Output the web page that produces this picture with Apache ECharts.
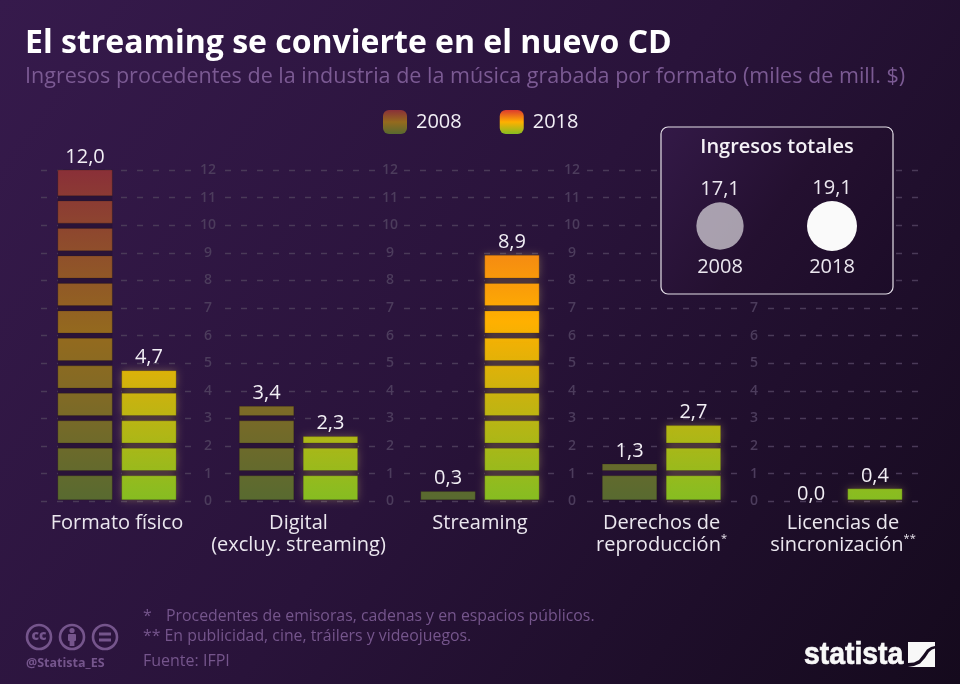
<!DOCTYPE html>
<html><head><meta charset="utf-8">
<style>html,body{margin:0;padding:0;background:#220f2e}#c{width:960px;height:684px}</style>
<script src="https://cdn.jsdelivr.net/npm/echarts@6/dist/echarts.min.js"></script>
</head><body><div id="c"></div>
<script>
const categories = ['Formato físico','Digital\n(excluy. streaming)','Streaming','Derechos de\n{n|reproducción}{s|*}','Licencias de\n{n|sincronización}{s|**}'];
const values2008 = [12.0,3.4,0.3,1.3,0.0];
const values2018 = [4.7,2.3,8.9,2.7,0.4];
const totalYears = ['2008','2018'];
const totalValues = [17.1,19.1];
const yTicksMax = 12;

const FF = '"Open Sans"';
const fmt = v => v.toFixed(1).replace('.',',');
const stops2008 = [[0,'#8a3038'],[0.25,'#8f4f2b'],[0.5,'#946a1e'],[0.7,'#7f6a26'],[1,'#586a30']];
const stops2018 = [[0,'#dd3a2e'],[0.25,'#f58a12'],[0.46,'#ffb000'],[0.7,'#c6b310'],[1,'#86bd22']];
const cs = a => a.map(s=>({offset:s[0],color:s[1]}));

// five panels of dashed gridlines, four of them carrying tick labels on the right
const panels = [[41,17],[225,15],[404,18],[587,17],[768,null]];
const grids=[],xAxes=[],yAxes=[];
panels.forEach(p=>{
  const i=grids.length;
  grids.push({left:p[0],width:150,top:170,height:331.3});
  xAxes.push({type:'value',gridIndex:i,show:false,min:0,max:1});
  yAxes.push({type:'value',gridIndex:i,position:'right',min:0,max:yTicksMax,interval:1,
    axisLine:{show:false},axisTick:{show:false},
    axisLabel:{show:p[1]!==null,margin:p[1]||0,align:'center',color:'#4c3c5c',fontFamily:FF,fontWeight:600,fontSize:14},
    splitLine:{show:true,lineStyle:{color:'#4a3a58',width:1.4,type:[6,10]}}});
});
// bars grid
const barG=grids.length;
grids.push({left:26.25,width:907.5,top:170,height:329.8});
xAxes.push({type:'category',gridIndex:barG,data:categories,axisLine:{show:false},axisTick:{show:false},
  axisLabel:{interval:0,margin:12,color:'#ebe7ef',fontFamily:FF,fontSize:20,lineHeight:22,
    rich:{n:{fontFamily:FF,fontSize:20,color:'#ebe7ef',lineHeight:22},s:{fontFamily:FF,fontSize:11,color:'#ebe7ef',lineHeight:22,verticalAlign:'top',padding:[0,0,6,0]}}}});
yAxes.push({type:'value',gridIndex:barG,show:false,min:0,max:yTicksMax,splitLine:{show:false}});
// totals grid
const totG=grids.length;
grids.push({left:664,width:224,top:206,height:40});
xAxes.push({type:'category',gridIndex:totG,data:totalYears,z:7,axisLine:{show:false},axisTick:{show:false},
  axisLabel:{margin:11,color:'#ebe7ef',fontFamily:FF,fontSize:20}});
yAxes.push({type:'value',gridIndex:totG,show:false,min:0,max:2,splitLine:{show:false}});

function barSeries(name,values,stops,side,glow,backing){
  return {name,type:'custom',xAxisIndex:barG,yAxisIndex:barG,z:3,
    data:values.map((v,i)=>[i,v]),
    encode:{x:0,y:1},
    renderItem(params,api){
      const i=api.value(0),v=api.value(1);
      const c=api.coord([i,0]);const band=api.size([1,0])[0];
      const w=band*0.3;const x=c[0]+side*(band*0.026)+(side<0?-w:0);
      const y0=api.coord([i,0])[1],y12=api.coord([i,yTicksMax])[1];
      const fill={type:'linear',global:true,x:0,y:y12,x2:0,y2:y0,colorStops:cs(stops)};
      const ch=[];
      const top=api.coord([i,v])[1];
      if(v>0) ch.push({type:'rect',shape:{x:x,y:top,width:w,height:y0-top},style:{fill:backing}});
      for(let n=0;n<Math.ceil(v);n++){
        const lo=n===0?0:n-0.03+0.096, hi=(n+1>=v)?v:n+1-0.03-0.096;
        if(hi<=lo) continue;
        const a=api.coord([i,hi])[1],b=api.coord([i,lo])[1];
        ch.push({type:'rect',shape:{x:x,y:a,width:w,height:b-a},
          style:{fill:fill,stroke:'rgba(40,30,10,0.22)',lineWidth:1,shadowBlur:glow?8:0,shadowColor:glow?'rgba(255,225,140,0.3)':'transparent'}});
      }
      ch.push({type:'text',style:{text:fmt(v),x:x+w/2,y:top-(v===0?6:13),align:'center',verticalAlign:'middle',fill:'#f2eff5',font:'20px '+FF}});
      return {type:'group',children:ch};
    }};
}

const option={
  animation:false,
  backgroundColor:{type:'linear',x:0,y:0,x2:1,y2:1,colorStops:[{offset:0,color:'#361a4c'},{offset:0.5,color:'#29133a'},{offset:1,color:'#150a1d'}]},
  title:[
    {text:'El streaming se convierte en el nuevo CD',left:25,top:28,padding:0,textStyle:{color:'#fff',fontFamily:FF,fontWeight:700,fontSize:32}},
    {text:'Ingresos procedentes de la industria de la música grabada por formato (miles de mill. $)',left:25,top:66,padding:0,textStyle:{color:'#7b5a93',fontFamily:FF,fontWeight:400,fontSize:21.55}}
  ],
  legend:{left:383,top:110,padding:0,itemWidth:24,itemHeight:24,itemGap:38,itemStyle:{borderWidth:0},
    textStyle:{color:'#f2eff5',fontFamily:FF,fontSize:20,padding:[2,0,0,4]},
    data:[
      {name:'2008',icon:'roundRect',itemStyle:{color:{type:'linear',x:0,y:0,x2:0,y2:1,colorStops:[{offset:0,color:'#8a3038'},{offset:.5,color:'#946a1e'},{offset:1,color:'#586a30'}]}}},
      {name:'2018',icon:'roundRect',itemStyle:{color:{type:'linear',x:0,y:0,x2:0,y2:1,colorStops:[{offset:0,color:'#dd3a2e'},{offset:.5,color:'#ffb000'},{offset:1,color:'#86bd22'}]}}}
    ]},
  grid:grids,xAxis:xAxes,yAxis:yAxes,
  series:[
    barSeries('2008',values2008,stops2008,-1,false,'#2a1338'),
    barSeries('2018',values2018,stops2018,1,true,'#2a1530'),
    {type:'scatter',xAxisIndex:totG,yAxisIndex:totG,z:6,
      data:totalValues.map((v,i)=>({value:[i,1,v],itemStyle:{color:i?'#fafafa':'rgba(255,255,255,0.6)',opacity:1}})),
      symbolSize:d=>Math.sqrt(d[2])*11.44,
      label:{show:true,position:'top',distance:3,formatter:p=>fmt(p.value[2]),color:'#ebe7ef',fontFamily:FF,fontSize:20}}
  ],
  graphic:[
    {type:'rect',z:1,shape:{x:661,y:127,width:232,height:167,r:7},
      style:{fill:{type:'linear',x:0,y:0,x2:1,y2:1,colorStops:[{offset:0,color:'#331947'},{offset:0.5,color:'#241030'},{offset:1,color:'#1c0c28'}]},stroke:'#e4dfe8',lineWidth:1.2}},
    {type:'text',z:5,style:{text:'Ingresos totales',x:777,y:147,align:'center',verticalAlign:'middle',fill:'#f4f1f6',font:'600 20px '+FF}},
    {type:'text',z:5,style:{text:'*',x:143,y:616.5,verticalAlign:'middle',fill:'#75558c',font:'15.85px '+FF}},
    {type:'text',z:5,style:{text:'Procedentes de emisoras, cadenas y en espacios públicos.',x:166,y:616.5,verticalAlign:'middle',fill:'#75558c',font:'15.85px '+FF}},
    {type:'text',z:5,style:{text:'** En publicidad, cine, tráilers y videojuegos.',x:143,y:636.5,verticalAlign:'middle',fill:'#75558c',font:'15.85px '+FF}},
    {type:'text',z:5,style:{text:'Fuente: IFPI',x:143,y:661,verticalAlign:'middle',fill:'#75558c',font:'16px '+FF}},
    {type:'text',z:5,style:{text:'@Statista_ES',x:26,y:663,verticalAlign:'middle',fill:'#75558c',font:'700 12.5px '+FF}},
    // CC icons
    {type:'circle',z:5,shape:{cx:39,cy:637,r:12},style:{fill:'none',stroke:'#75558c',lineWidth:2.6}},
    {type:'text',z:5,style:{text:'cc',x:39,y:636,align:'center',verticalAlign:'middle',fill:'#75558c',font:'800 14px '+FF}},
    {type:'circle',z:5,shape:{cx:72,cy:637,r:12},style:{fill:'none',stroke:'#75558c',lineWidth:2.6}},
    {type:'circle',z:5,shape:{cx:72,cy:630.5,r:2.6},style:{fill:'#75558c'}},
    {type:'rect',z:5,shape:{x:68,y:634,width:8,height:7,r:1},style:{fill:'#75558c'}},
    {type:'rect',z:5,shape:{x:69.6,y:640,width:4.8,height:6},style:{fill:'#75558c'}},
    {type:'circle',z:5,shape:{cx:105,cy:637,r:12},style:{fill:'none',stroke:'#75558c',lineWidth:2.6}},
    {type:'rect',z:5,shape:{x:99,y:632.5,width:12,height:3},style:{fill:'#75558c'}},
    {type:'rect',z:5,shape:{x:99,y:638.5,width:12,height:3},style:{fill:'#75558c'}},
    // logo
    {type:'text',z:5,x:804,y:655,scaleX:0.915,style:{text:'statista',x:0,y:0,verticalAlign:'middle',fill:'#f8f8f8',stroke:'#f8f8f8',lineWidth:0.7,font:'700 31px "Liberation Sans"'}},
    {type:'rect',z:5,shape:{x:908,y:642,width:27,height:25},style:{fill:'#f8f8f8'}},
    {type:'polygon',z:6,shape:{points:[[908,663],[914,662.5],[919,660],[923,655],[927,649.5],[931,647],[935,646],[935,648.5],[932,649.5],[929,652],[925,658],[920,663.5],[914,666],[908,667]]},style:{fill:'#170b20'}}
  ]
};
echarts.init(document.getElementById('c'),null,{renderer:'canvas'}).setOption(option);
</script></body></html>
